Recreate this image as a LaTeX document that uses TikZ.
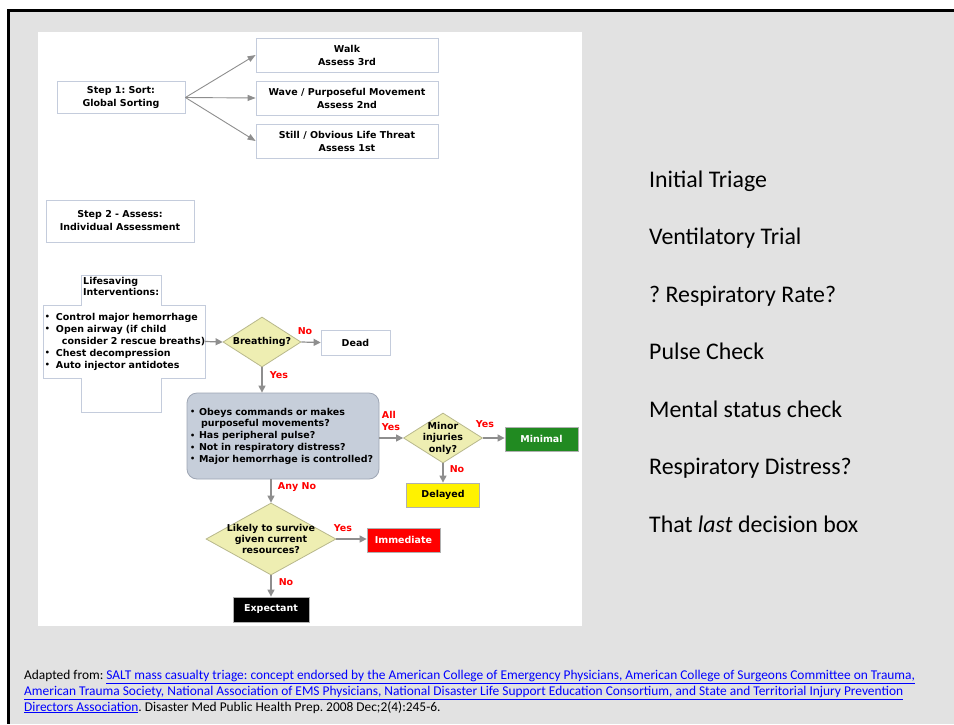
\documentclass[tikz,border=0pt]{standalone}
\usepackage{fontspec}
\setmainfont{Carlito}
\newfontfamily\vfont{DejaVu Sans}
\usetikzlibrary{shapes.geometric,arrows.meta}
\frenchspacing

\definecolor{bgtex}{HTML}{E2E2E2}
\definecolor{boxline}{HTML}{C4CCDC}
\definecolor{arrowgray}{HTML}{8E8E8E}
\definecolor{dfill}{HTML}{EEEEB2}
\definecolor{dline}{HTML}{B8B88C}
\definecolor{rfill}{HTML}{C6CEDA}
\definecolor{rline}{HTML}{9EA6B4}
\definecolor{mingreen}{HTML}{218A21}
\definecolor{linkblue}{HTML}{0000FF}

\newcommand\dtxt{\vfont\bfseries\fontsize{9.5}{13}\selectfont}
\newcommand\bul{\makebox[11pt][l]{\raisebox{0.3pt}{\fontsize{8}{8}\selectfont\textbullet}}}
\newcommand\sbul{\makebox[9pt][l]{\raisebox{0.3pt}{\fontsize{8}{8}\selectfont\textbullet}}}

\tikzset{
  box/.style={draw=boxline, fill=white, line width=0.8pt, inner sep=0pt,
    font=\dtxt, align=center},
  outcome/.style={draw=arrowgray!70, line width=0.8pt, inner sep=0pt,
    font=\dtxt, align=center},
  decision/.style={shape=diamond, draw=dline, fill=dfill, line width=0.8pt,
    inner sep=0pt},
  dlabel/.style={font=\dtxt, align=center, inner sep=0pt},
  arr/.style={draw=arrowgray, line width=1.2pt,
    -{Triangle[length=7pt,width=7pt]}},
  fan/.style={draw=arrowgray, line width=0.9pt,
    -{Triangle[length=8pt,width=6pt]}},
  yn/.style={text=red, font=\vfont\bfseries\fontsize{9.5}{11.5}\selectfont,
    inner sep=0pt, align=left},
  point/.style={anchor=base west, inner sep=0pt,
    font=\fontsize{23.85}{28}\selectfont},
  cite/.style={anchor=base west, inner sep=0pt,
    font=\fontsize{13.4}{16}\selectfont}
}

\begin{document}
\begin{tikzpicture}[x=1pt,y=-1pt]
\useasboundingbox (0,0) rectangle (954,724);

% slide background and frame
\fill[bgtex] (9.5,11.5) rectangle (954,724);
\fill[black] (6.5,8.5) rectangle (954,11.5);
\fill[black] (6.5,8.5) rectangle (9.5,724);
\fill[white] (38,32) rectangle (582,626);

% step 1: global sorting
\node[box, minimum width=128pt, minimum height=32pt] (sort) at (121,97.5)
  {Step 1: Sort:\\Global Sorting};
\node[box, minimum width=182pt, minimum height=34pt] (walk) at (347,55)
  {Walk\\Assess 3rd};
\node[box, minimum width=182pt, minimum height=34pt] (wave) at (347,98)
  {Wave / Purposeful Movement\\Assess 2nd};
\node[box, minimum width=182pt, minimum height=34pt] (still) at (347,141)
  {Still / Obvious Life Threat\\Assess 1st};
\draw[fan] (sort.east) -- (walk.west);
\draw[fan] (sort.east) -- (wave.west);
\draw[fan] (sort.east) -- (still.west);

% step 2: individual assessment
\node[box, minimum width=148pt, minimum height=42pt] (assesshead) at (120,221)
  {Step 2 - Assess:\\Individual Assessment};

% lifesaving interventions (cross-shaped panel)
\draw[boxline, fill=white, line width=0.8pt]
  (81,275) -| (161,305) -| (205,378) -| (161,412) -| (81,378)
  -| (43,305) -| (81,275) -- cycle;
\node[anchor=north west, inner sep=0pt, font=\vfont\bfseries\fontsize{9.5}{11.5}\selectfont,
  align=left] (lshead) at (83,277) {Lifesaving\\Interventions:};
\node[inner sep=0pt, minimum height=73pt, text width=160pt, align=left,
  font=\vfont\bfseries\fontsize{9.5}{12}\selectfont] (ls) at (125,341.5)
  {\mbox{\bul Control major hemorrhage}\\
   \mbox{\bul Open airway (if child}\\
   \mbox{\hspace*{17pt}consider 2 rescue breaths)}\\
   \mbox{\bul Chest decompression}\\
   \mbox{\bul Auto injector antidotes}};

% breathing decision
\node[decision, minimum width=78pt, minimum height=50pt] (breath) at (262,342) {};
\node[dlabel] (breatht) at (breath.center) {Breathing?};
\node[box, minimum width=69pt, minimum height=25pt] (dead) at (355.5,342.5) {Dead};
\draw[arr] (ls.east) -- (breath.west);
\draw[arr] (breath.east) -- (dead.west -| dead.west);
\node[yn] (nob) at (305,331) {No};
\node[yn] (yesb) at (279,375) {Yes};

% assessment questions
\node[rounded corners=10pt, draw=rline, fill=rfill, line width=0.8pt,
  minimum width=192pt, minimum height=86pt, text width=186pt, inner sep=3pt,
  align=left, font=\vfont\bfseries\fontsize{9.5}{11.75}\selectfont] (quest) at (283,436)
  {\sbul Obeys commands or makes\\
   \hspace*{11pt}purposeful movements?\\
   \sbul Has peripheral pulse?\\
   \sbul Not in respiratory distress?\\
   \sbul Major hemorrhage is controlled?};
\draw[arr] (breath.south) -- (breath.south |- quest.north);

% minor injuries decision
\node[decision, minimum width=79pt, minimum height=50pt] (minor) at (443,438) {};
\node[dlabel, font=\vfont\bfseries\fontsize{9.5}{11.5}\selectfont] (minort)
  at (minor.center) {Minor\\injuries\\only?};
\draw[arr] (quest.east |- minor.west) -- (minor.west);
\node[yn] (allyes) at (391,421) {All\\Yes};

\node[outcome, fill=mingreen, text=white, minimum width=73pt, minimum height=24pt]
  (minimal) at (541.5,439) {Minimal};
\draw[arr] (minor.east) -- (minor.east -| minimal.west);
\node[yn] (yesm) at (485,424) {Yes};

\node[outcome, fill=yellow, text=black, minimum width=73pt, minimum height=24pt]
  (delayed) at (443,495) {Delayed};
\draw[arr] (minor.south) -- (delayed.north);
\node[yn] (nom) at (457,469) {No};

% survival decision
\node[decision, minimum width=130pt, minimum height=72pt] (likely) at (271,539) {};
\node[dlabel, font=\vfont\bfseries\fontsize{9.5}{11}\selectfont] (likelyt)
  at (likely.center) {Likely to survive\\given current\\resources?};
\draw[arr] (quest.south -| likely.north) -- (likely.north);
\node[yn] (anyno) at (297,487) {Any No};

\node[outcome, fill=red, text=white, minimum width=73pt, minimum height=24pt]
  (immediate) at (403.5,540) {Immediate};
\draw[arr] (likely.east) -- (likely.east -| immediate.west);
\node[yn] (yesl) at (343,528) {Yes};

\node[outcome, fill=black, text=white, minimum width=76pt, minimum height=25pt]
  (expectant) at (271,609.5) {Expectant};
\draw[arr] (likely.south) -- (expectant.north);
\node[yn] (nol) at (286,582) {No};

% talking points
\node[point] (p1) at (649,187) {Initial Triage};
\node[point] (p2) at (649,244.5) {Ventilatory Trial};
\node[point] (p3) at (649,302) {? Respiratory Rate?};
\node[point] (p4) at (649,359.5) {Pulse Check};
\node[point] (p5) at (649,417) {Mental status check};
\node[point] (p6) at (649,474.5) {Respiratory Distress?};
\node[point] (p7) at (649,532) {That \textit{last} decision box};

% reference
\node[cite] (c1) at (24,679) {Adapted from: \textcolor{linkblue}{\underline{SALT mass casualty triage: concept endorsed by the American College of Emergency Physicians, American College of Surgeons Committee on Trauma,}}};
\node[cite] (c2) at (24,695) {\textcolor{linkblue}{\underline{American Trauma Society, National Association of EMS Physicians, National Disaster Life Support Education Consortium, and State and Territorial Injury Prevention}}};
\node[cite] (c3) at (24,711) {\textcolor{linkblue}{\underline{Directors Association}}. Disaster Med Public Health Prep. 2008 Dec;2(4):245-6.};
\end{tikzpicture}
\end{document}
